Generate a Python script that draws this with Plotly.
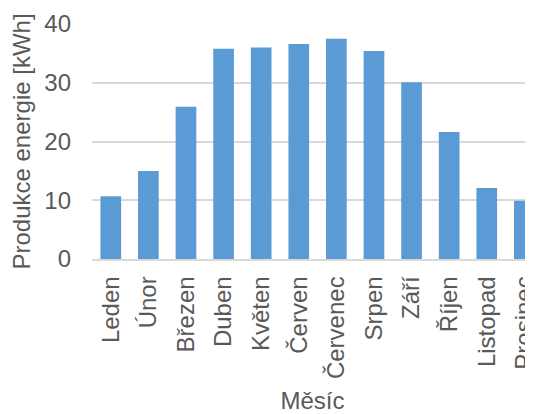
import plotly.graph_objects as go

months = ["Leden", "Únor", "Březen", "Duben", "Květen", "Červen",
          "Červenec", "Srpen", "Září", "Říjen", "Listopad", "Prosinec"]
energy = [10.7, 15.0, 25.9, 35.8, 36.0, 36.6, 37.5, 35.4, 30.1, 21.6, 12.1, 9.9]
y_ticks = [0, 10, 20, 30, 40]

FONT = "Liberation Sans, Arial, sans-serif"
GRAY = "#595959"
FS = 24

fig = go.Figure(go.Bar(
    x=list(range(len(months))), y=energy,
    marker=dict(color="#5b9bd5", line=dict(width=0)),
))

fig.update_layout(
    width=533, height=406,
    margin=dict(l=84, r=8, t=16, b=155),
    paper_bgcolor="white", plot_bgcolor="white",
    bargap=0.45,
    showlegend=False,
    font=dict(family=FONT, size=FS, color=GRAY),
)
fig.update_xaxes(
    tickmode="array", tickvals=list(range(len(months))), ticktext=months,
    range=[-0.5, 11.23], tickangle=-90,
    showgrid=False, showline=True, linecolor="#d9d9d9", linewidth=1.5,
    ticks="", ticklabelstandoff=6, ticklabeloverflow="allow",
    title=dict(text="Měsíc", font=dict(size=FS, color=GRAY), standoff=14),
    automargin=False,
)
fig.update_yaxes(
    range=[0, 40], tickvals=y_ticks,
    showgrid=True, gridcolor="#d9d9d9", gridwidth=1.5,
    zeroline=False, showline=False, ticks="", ticklabelstandoff=20,
    title=dict(text="Produkce energie [kWh]", font=dict(size=FS, color=GRAY), standoff=8),
    automargin=False,
)

fig.write_html("out.html")
